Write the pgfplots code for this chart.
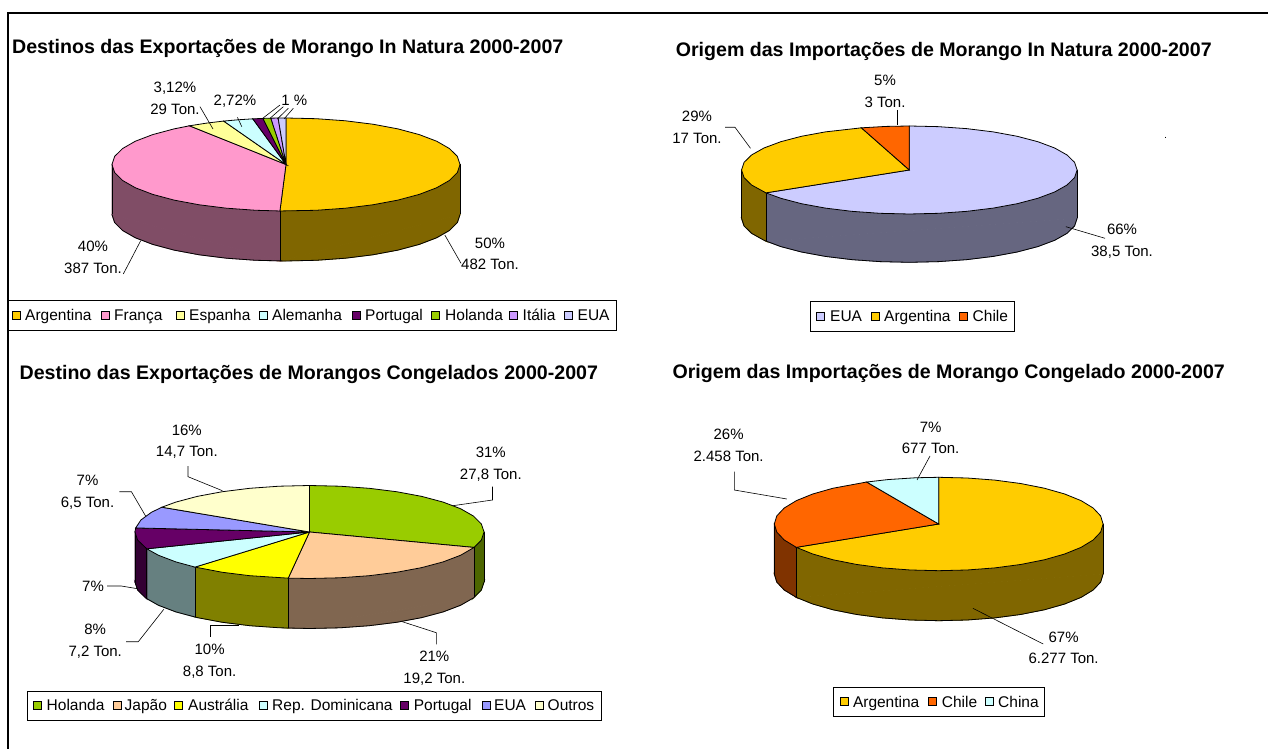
\documentclass[border=0pt]{standalone}
\usepackage{fontspec}
\setmainfont{Liberation Sans}
\usepackage{pgfplots}
\pgfplotsset{compat=1.18}

% 1 reference pixel = 1pt
\pgfplotsset{pie/.style={hide axis,scale only axis,clip=false,anchor=center,
    xmin=-1,xmax=1,ymin=-1,ymax=1}}
\definecolor{amar}{HTML}{FFCC00}\definecolor{amard}{HTML}{806600}
\definecolor{rosa}{HTML}{FF99CC}\definecolor{rosad}{HTML}{804D66}
\definecolor{creme}{HTML}{FFFF99}\definecolor{ciano}{HTML}{CCFFFF}
\definecolor{roxo}{HTML}{660066}\definecolor{roxod}{HTML}{330033}
\definecolor{verde}{HTML}{99CC00}\definecolor{verded}{HTML}{4D6600}
\definecolor{lilas}{HTML}{CC99FF}\definecolor{azul}{HTML}{CCCCFF}
\definecolor{azuld}{HTML}{666680}\definecolor{azulf}{HTML}{9999FF}
\definecolor{laranja}{HTML}{FF6600}\definecolor{laranjad}{HTML}{803300}
\definecolor{pele}{HTML}{FFCC99}\definecolor{peled}{HTML}{806650}
\definecolor{gema}{HTML}{FFFF00}\definecolor{gemad}{HTML}{808000}
\definecolor{cianod}{HTML}{668080}\definecolor{palha}{HTML}{FFFFCC}

% lower rim, plain angle/radius pairs
\newcommand{\rim}[1]{\addplot[black,line width=.8pt,data cs=polar,yshift=-#1pt] coordinates {
  (0,1)(-10,1)(-20,1)(-30,1)(-40,1)(-50,1)(-60,1)(-70,1)(-80,1)(-90,1)
  (-100,1)(-110,1)(-120,1)(-130,1)(-140,1)(-150,1)(-160,1)(-170,1)(-180,1)};}
\newcommand{\edge}[3]{\addplot[black,line width=.8pt] coordinates {(#1,#2)(#1,#3)};}
\newcommand{\slice}[2]{\addplot[fill=#1,draw=black,line width=.8pt,data cs=polar] coordinates {(0,0) #2} --cycle;}
\newcommand{\wallquad}[2]{\addplot[fill=#1,draw=#1,line width=.8pt] coordinates {#2} --cycle;}
\newcommand{\wallarc}[3]{\addplot[fill=#1,draw=#1,line width=.8pt,data cs=polar,yshift=-#2pt] coordinates {#3} --cycle;}

\newcommand{\lab}[3]{\node[align=center,inner sep=0pt,font=\fontsize{15}{21.5}\selectfont] at (axis cs:#1,#2) {#3};}
\newcommand{\ttl}[3]{\node[anchor=base west,inner sep=0pt,yshift=-6.8pt,font=\fontsize{19.6}{22}\selectfont\bfseries] at (axis cs:#1,#2) {#3};}
\newcommand{\leader}[1]{\addplot[black,line width=.6pt] coordinates {#1};}
\newcommand{\legbox}[4]{\addplot[fill=white,draw=black,line width=.9pt] coordinates {(#1,#3)(#2,#3)(#2,#4)(#1,#4)} --cycle;}
\newcommand{\legitem}[5]{\addplot[only marks,mark=square*,mark size=4pt,mark options={fill=#1,draw=black,line width=.7pt}] coordinates {(#2,#4)};
  \node[anchor=base west,inner sep=0pt,yshift=-5.5pt,font=\fontsize{15.5}{18}\selectfont] at (axis cs:#3,#4) {#5};}

\begin{document}
\begin{tikzpicture}
\path[use as bounding box] (0pt,0pt) rectangle (1268pt,749pt);

% Destinos In Natura
\begin{axis}[pie,at={(286pt,584.5pt)},width=348pt,height=93pt]
\wallarc{amard}{50}{(0,1)(-10,1)(-20,1)(-30,1)(-40,1)(-50,1)(-60,1)(-70,1)(-80,1)(-92,1)}
\wallquad{amard}{(1,0)(1,-1.075)(-.035,-2.074)(-.035,-.999)}
\wallarc{rosad}{50}{(-92,1)(-100,1)(-110,1)(-120,1)(-130,1)(-140,1)(-150,1)(-160,1)(-170,1)(-180,1)}
\wallquad{rosad}{(-.035,-.999)(-.035,-2.074)(-1,-1.075)(-1,0)}
\rim{50}
\edge{1}{0}{-1.075}\edge{-.035}{-.999}{-2.074}\edge{-1}{0}{-1.075}
\slice{amar}{(90,1)(80,1)(70,1)(60,1)(50,1)(40,1)(30,1)(20,1)(10,1)(0,1)(-10,1)(-20,1)(-30,1)(-40,1)(-50,1)(-60,1)(-70,1)(-80,1)(-92,1)}
\slice{rosa}{(-92,1)(-100,1)(-110,1)(-120,1)(-130,1)(-140,1)(-150,1)(-160,1)(-170,1)(-180,1)(-190,1)(-200,1)(-210,1)(-220,1)(-230,1)(-236.3,1)}
\slice{creme}{(123.7,1)(117,1)(111,1)}
\slice{ciano}{(111,1)(106,1)(101,1)}
\slice{roxo}{(101,1)(97.6,1)}
\slice{verde}{(97.6,1)(95,1)}
\slice{lilas}{(95,1)(92.6,1)}
\slice{azul}{(92.6,1)(90,1)}
\end{axis}

% Origem In Natura
\begin{axis}[pie,at={(909.3pt,579pt)},width=335.6pt,height=88pt]
\wallarc{azuld}{48.3}{(0,1)(-10,1)(-20,1)(-30,1)(-40,1)(-50,1)(-60,1)(-70,1)(-80,1)(-90,1)(-100,1)(-110,1)(-120,1)(-130,1)(-140,1)(-148.7,1)}
\wallquad{azuld}{(1,0)(1,-1.098)(-.854,-1.618)(-.854,-.52)}
\wallarc{amard}{48.3}{(-148.7,1)(-160,1)(-170,1)(-180,1)}
\wallquad{amard}{(-.854,-.52)(-.854,-1.618)(-1,-1.098)(-1,0)}
\rim{48.3}
\edge{1}{0}{-1.098}\edge{-.854}{-.52}{-1.618}\edge{-1}{0}{-1.098}
\slice{azul}{(90,1)(80,1)(70,1)(60,1)(50,1)(40,1)(30,1)(20,1)(10,1)(0,1)(-10,1)(-20,1)(-30,1)(-40,1)(-50,1)(-60,1)(-70,1)(-80,1)(-90,1)(-100,1)(-110,1)(-120,1)(-130,1)(-140,1)(-148.7,1)}
\slice{amar}{(211.3,1)(200,1)(190,1)(180,1)(170,1)(160,1)(150,1)(140,1)(130,1)(120,1)(106.6,1)}
\slice{laranja}{(106.6,1)(98,1)(90,1)}
\end{axis}

% Destino Congelados
\begin{axis}[pie,at={(309.5pt,217pt)},width=349pt,height=93pt]
\wallarc{verded}{50}{(0,1)(-10,1)(-19.4,1)}
\wallquad{verded}{(1,0)(1,-1.075)(.943,-1.407)(.943,-.332)}
\wallarc{peled}{50}{(-19.4,1)(-30,1)(-40,1)(-50,1)(-60,1)(-70,1)(-80,1)(-90,1)(-97,1)}
\wallquad{peled}{(.943,-.332)(.943,-1.407)(-.122,-2.068)(-.122,-.993)}
\wallarc{gemad}{50}{(-97,1)(-110,1)(-120,1)(-131,1)}
\wallquad{gemad}{(-.122,-.993)(-.122,-2.068)(-.656,-1.83)(-.656,-.755)}
\wallarc{cianod}{50}{(-131,1)(-140,1)(-150,1)(-158.8,1)}
\wallquad{cianod}{(-.656,-.755)(-.656,-1.83)(-.932,-1.437)(-.932,-.362)}
\wallarc{roxod}{50}{(-158.8,1)(-170,1)(-180,1)}
\wallquad{roxod}{(-.932,-.362)(-.932,-1.437)(-1,-1.075)(-1,0)}
\rim{50}
\edge{1}{0}{-1.075}\edge{.943}{-.332}{-1.407}\edge{-.122}{-.993}{-2.068}\edge{-.656}{-.755}{-1.83}\edge{-.932}{-.362}{-1.437}\edge{-1}{0}{-1.075}
\slice{verde}{(90,1)(80,1)(70,1)(60,1)(50,1)(40,1)(30,1)(20,1)(10,1)(0,1)(-10,1)(-19.4,1)}
\slice{pele}{(-19.4,1)(-30,1)(-40,1)(-50,1)(-60,1)(-70,1)(-80,1)(-90,1)(-97,1)}
\slice{gema}{(-97,1)(-110,1)(-120,1)(-131,1)}
\slice{ciano}{(-131,1)(-140,1)(-150,1)(-158.8,1)}
\slice{roxo}{(-158.8,1)(-170,1)(-180,1)(-185,1)}
\slice{azulf}{(-185,1)(-195,1)(-205,1)(-212.2,1)}
\slice{palha}{(-212.2,1)(-220,1)(-230,1)(-240,1)(-250,1)(-260,1)(-270,1)}
\end{axis}

% Origem Congelado
\begin{axis}[pie,at={(938.7pt,225pt)},width=328.8pt,height=93.4pt]
\wallarc{amard}{50}{(0,1)(-10,1)(-20,1)(-30,1)(-40,1)(-50,1)(-60,1)(-70,1)(-80,1)(-90,1)(-100,1)(-110,1)(-120,1)(-130,1)(-140,1)(-150,1)}
\wallquad{amard}{(1,0)(1,-1.071)(-.866,-1.571)(-.866,-.5)}
\wallarc{laranjad}{50}{(-150,1)(-160,1)(-170,1)(-180,1)}
\wallquad{laranjad}{(-.866,-.5)(-.866,-1.571)(-1,-1.071)(-1,0)}
\rim{50}
\edge{1}{0}{-1.071}\edge{-.866}{-.5}{-1.571}\edge{-1}{0}{-1.071}
\slice{amar}{(90,1)(80,1)(70,1)(60,1)(50,1)(40,1)(30,1)(20,1)(10,1)(0,1)(-10,1)(-20,1)(-30,1)(-40,1)(-50,1)(-60,1)(-70,1)(-80,1)(-90,1)(-100,1)(-110,1)(-120,1)(-130,1)(-140,1)(-150,1)}
\slice{laranja}{(210,1)(200,1)(190,1)(180,1)(170,1)(160,1)(150,1)(140,1)(130,1)(116,1)}
\slice{ciano}{(116,1)(108,1)(98,1)(90,1)}
\end{axis}

% frame, leaders, texts and legends, in reference pixels
\begin{axis}[hide axis,scale only axis,clip=false,at={(0pt,0pt)},anchor=south west,
    width=1268pt,height=749pt,xmin=0,xmax=1268,ymin=0,ymax=749,y dir=reverse]
\addplot[black,line width=2pt] coordinates {(7.5,749)(7.5,13)(1268,13)};
\addplot[black,line width=.8pt] coordinates {(1165,136.5)(1165,137.5)};

\ttl{12}{47}{Destinos das Exportações de Morango In Natura 2000-2007}
\ttl{675.6}{50}{Origem das Importações de Morango In Natura 2000-2007}
\ttl{19.4}{373}{Destino das Exportações de Morangos Congelados 2000-2007}
\ttl{672.4}{372}{Origem das Importações de Morango Congelado 2000-2007}

\leader{(200,106.7)(213,129)}
\leader{(237.4,117.3)(241.8,126.7)}
\leader{(280,105)(262.7,118.3)}
\leader{(283.3,106.7)(270,118.3)}
\leader{(288.3,108.3)(277.3,119)}
\leader{(293.3,108.3)(284,119)}
\leader{(123.3,274)(140.7,240.7)}
\leader{(461,263.3)(444.8,235)}
\lab{175}{98.5}{3,12\%\\29 Ton.}
\lab{235}{101.7}{2,72\%}
\lab{294.4}{100}{1 \%}
\lab{93}{257.5}{40\%\\387 Ton.}
\lab{490}{254}{50\%\\482 Ton.}

\leader{(897.2,110)(897.2,125)}
\leader{(725,127.3)(735,127.3)(750.5,148.3)}
\leader{(1105,238.3)(1065.9,226.7)}
\lab{885}{91.5}{5\%\\3 Ton.}
\lab{697}{127.5}{29\%\\17 Ton.}
\lab{1122}{241}{66\%\\38,5 Ton.}

\leader{(188,466)(188,476.7)(222.4,490.7)}
\leader{(492.5,486.7)(492.5,500)(452.9,505.7)}
\leader{(119.3,491.7)(131.4,491.7)(145.6,516)}
\leader{(107.2,586)(121.3,586)(137.5,588.7)}
\leader{(126.2,641.7)(138.3,641.7)(163.8,609.3)}
\leader{(209.9,636.7)(209.9,625)(238.6,625)}
\leader{(436.3,644.3)(436.3,632.7)(402.3,621.7)}
\lab{186.8}{441.5}{16\%\\14,7 Ton.}
\lab{490.8}{464}{31\%\\27,8 Ton.}
\lab{87.5}{492}{7\%\\6,5 Ton.}
\lab{93}{586}{7\%}
\lab{95.2}{641}{8\%\\7,2 Ton.}
\lab{209.6}{661}{10\%\\8,8 Ton.}
\lab{434.3}{668}{21\%\\19,2 Ton.}

\leader{(734.3,471.7)(734.3,490)(786.9,499)}
\leader{(930,456)(917,480)}
\leader{(1043.2,644)(972.9,608.3)}
\lab{728.6}{445.5}{26\%\\2.458 Ton.}
\lab{930.6}{438}{7\%\\677 Ton.}
\lab{1063.6}{648}{67\%\\6.277 Ton.}

\legbox{8}{616.7}{300.7}{330}
\legitem{amar}{16}{25}{315}{Argentina}
\legitem{rosa}{105}{114}{315}{França}
\legitem{creme}{180}{189}{315}{Espanha}
\legitem{ciano}{263}{272}{315}{Alemanha}
\legitem{roxo}{356}{365}{315}{Portugal}
\legitem{verde}{435.5}{445}{315}{Holanda}
\legitem{lilas}{513.5}{522.5}{315}{Itália}
\legitem{azul}{568}{577.5}{315}{EUA}

\legbox{810.3}{1014.5}{301.7}{331}
\legitem{azul}{820.4}{830}{316}{EUA}
\legitem{amar}{875}{884}{316}{Argentina}
\legitem{laranja}{963.6}{972.5}{316}{Chile}

\legbox{27}{601.7}{691}{720}
\legitem{verde}{37.6}{46.5}{705}{Holanda}
\legitem{pele}{117}{124.5}{705}{Japão}
\legitem{gema}{178}{188}{705}{Austrália}
\legitem{ciano}{263}{272}{705}{Rep. Dominicana}
\legitem{roxo}{404}{413.6}{705}{Portugal}
\legitem{azulf}{486.5}{494}{705}{EUA}
\legitem{palha}{539}{547.5}{705}{Outros}

\legbox{833.4}{1044.8}{687.3}{716.7}
\legitem{amar}{843.9}{852.8}{701.7}{Argentina}
\legitem{laranja}{932.8}{941.7}{701.7}{Chile}
\legitem{ciano}{989.4}{998}{701.7}{China}
\end{axis}
\end{tikzpicture}
\end{document}
